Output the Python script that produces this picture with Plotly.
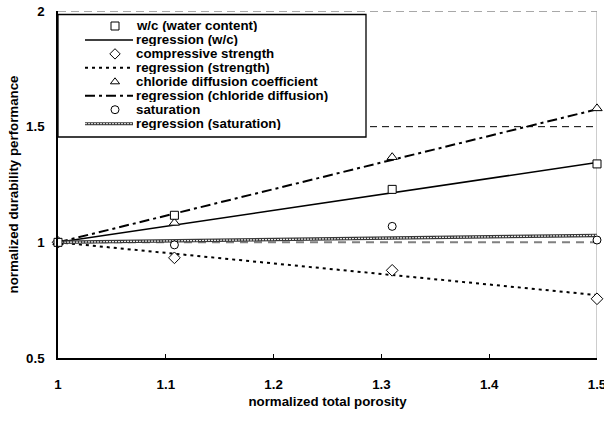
import plotly.graph_objects as go

# Measured points (normalized values)
porosity = [1.0, 1.108, 1.31, 1.5]
wc = [1.0, 1.117, 1.229, 1.339]
strength = [1.0, 0.933, 0.879, 0.756]
chloride = [1.0, 1.084, 1.368, 1.579]
saturation = [1.0, 0.989, 1.069, 1.010]

# Regression lines (end points over the porosity range)
reg_x = [1.0, 1.5]
reg_wc = [1.0, 1.345]
reg_strength = [1.0, 0.772]
reg_chloride = [1.0, 1.575]
reg_saturation = [1.0, 1.03]

x_ticks = [1, 1.1, 1.2, 1.3, 1.4, 1.5]
x_tick_text = ["1", "1.1", "1.2", "1.3", "1.4", "1.5"]
y_ticks = [0.5, 1, 1.5, 2]
y_tick_text = ["0.5", "1", "1.5", "2"]

legend_labels = [
    "w/c (water content)",
    "regression (w/c)",
    "compressive strength",
    "regression (strength)",
    "chloride diffusion coefficient",
    "regression (chloride diffusion)",
    "saturation",
    "regression (saturation)",
]

FONT = "Liberation Sans, Arial, sans-serif"
FS = 13.3
W, H = 604, 421
ML, MR, MT, MB = 58, 7, 11, 63
PW, PH = W - ML - MR, H - MT - MB
X_RANGE = [1, 1.5]
Y_RANGE = [0.5, 2]

def px_x(p):
    return (p - ML) / PW

def px_y(p):
    return (H - MB - p) / PH

def dx(p):
    return X_RANGE[0] + px_x(p) * (X_RANGE[1] - X_RANGE[0])

def dy(p):
    return Y_RANGE[0] + px_y(p) * (Y_RANGE[1] - Y_RANGE[0])

styles = {
    "wc": dict(color="black", width=1.6, dash="solid"),
    "strength": dict(color="black", width=2, dash="3px,4px"),
    "chloride": dict(color="black", width=2, dash="10px,4px,3px,4px"),
}

fig = go.Figure()

# regression lines
fig.add_trace(go.Scatter(x=reg_x, y=reg_wc, mode="lines", line=styles["wc"]))
fig.add_trace(go.Scatter(x=reg_x, y=reg_strength, mode="lines", line=styles["strength"]))
fig.add_trace(go.Scatter(x=reg_x, y=reg_chloride, mode="lines", line=styles["chloride"]))
fig.add_trace(go.Scatter(x=reg_x, y=reg_saturation, mode="lines",
                         line=dict(color="#3a3a3a", width=3.5)))
fig.add_trace(go.Scatter(x=reg_x, y=reg_saturation, mode="lines",
                         line=dict(color="#e8e8e8", width=1.2, dash="2px,1px")))

marker_base = dict(size=8, color="white", line=dict(color="black", width=1))
fig.add_trace(go.Scatter(x=porosity, y=saturation, mode="markers",
                         marker=dict(symbol="circle", **marker_base), cliponaxis=False))
fig.add_trace(go.Scatter(x=porosity, y=strength, mode="markers",
                         marker=dict(symbol="diamond", size=9, color="white",
                                     line=dict(color="black", width=1)), cliponaxis=False))
fig.add_trace(go.Scatter(x=porosity, y=chloride, mode="markers",
                         marker=dict(symbol="triangle-up", size=9, color="white",
                                     line=dict(color="black", width=1)), cliponaxis=False))
fig.add_trace(go.Scatter(x=porosity, y=wc, mode="markers",
                         marker=dict(symbol="square", **marker_base), cliponaxis=False))

shapes = []
# reference lines and frame
shapes.append(dict(type="line", xref="x", yref="y", x0=1, x1=1.5, y0=1.5, y1=1.5,
                   line=dict(color="black", width=1, dash="7px,5px"), layer="below"))
shapes.append(dict(type="line", xref="x", yref="y", x0=1, x1=1.5, y0=1, y1=1,
                   line=dict(color="#808080", width=2, dash="8px,6px"), layer="below"))
shapes.append(dict(type="line", xref="x", yref="y", x0=1, x1=1.5, y0=2, y1=2,
                   line=dict(color="#8c8c8c", width=1.5, dash="8px,5px"), layer="below"))
shapes.append(dict(type="line", xref="x", yref="y", x0=1.5, x1=1.5, y0=0.5, y1=2,
                   line=dict(color="#9a9a9a", width=1), layer="below"))

# legend box (in axis units so it sits above the reference lines)
shapes.append(dict(type="rect", xref="x", yref="y",
                   x0=dx(58), x1=dx(366), y0=dy(137), y1=dy(14.5),
                   fillcolor="white", line=dict(color="black", width=1.3), layer="below"))

row_y = [26 + i * 13.95 for i in range(len(legend_labels))]
line_styles = {1: styles["wc"], 3: styles["strength"], 5: styles["chloride"]}
for i, st in line_styles.items():
    shapes.append(dict(type="line", xref="paper", yref="paper",
                       x0=px_x(85), x1=px_x(133), y0=px_y(row_y[i]), y1=px_y(row_y[i]),
                       line=st, layer="above"))
shapes.append(dict(type="line", xref="paper", yref="paper",
                   x0=px_x(85), x1=px_x(133), y0=px_y(row_y[7]), y1=px_y(row_y[7]),
                   line=dict(color="#3a3a3a", width=3), layer="above"))
shapes.append(dict(type="line", xref="paper", yref="paper",
                   x0=px_x(85), x1=px_x(133), y0=px_y(row_y[7]), y1=px_y(row_y[7]),
                   line=dict(color="#e8e8e8", width=1, dash="2px,1px"), layer="above"))

# legend marker samples on an overlay axis in paper units
sym_rows = [(0, "square"), (2, "diamond"), (4, "triangle-up"), (6, "circle")]
fig.add_trace(go.Scatter(
    x=[px_x(115)] * len(sym_rows), y=[px_y(row_y[i]) for i, _ in sym_rows],
    mode="markers", xaxis="x2", yaxis="y2", cliponaxis=False,
    marker=dict(symbol=[s for _, s in sym_rows], size=8, color="white",
                line=dict(color="black", width=1))))

annotations = []
for i, lab in enumerate(legend_labels):
    annotations.append(dict(xref="paper", yref="paper", x=px_x(134), y=px_y(row_y[i]),
                            text=lab, showarrow=False, xanchor="left", yanchor="middle",
                            height=13, valign="middle",
                            font=dict(family=FONT, size=FS, color="black", weight="bold")))

tickfont = dict(family=FONT, size=FS, color="black", weight="bold")
titlefont = dict(family=FONT, size=FS, color="black", weight="bold")
fig.update_layout(
    width=W, height=H,
    margin=dict(l=ML, r=MR, t=MT, b=MB, autoexpand=False),
    paper_bgcolor="white", plot_bgcolor="white",
    showlegend=False,
    shapes=shapes, annotations=annotations,
    xaxis=dict(range=X_RANGE, tickvals=x_ticks, ticktext=x_tick_text,
               ticks="inside", ticklen=4, tickcolor="black", tickwidth=1,
               showline=True, linecolor="black", linewidth=1.5, showgrid=False,
               zeroline=False, tickfont=tickfont, ticklabelstandoff=13,
               ticklabeloverflow="allow", automargin=False,
               title=dict(text="normalized total porosity", standoff=6, font=titlefont)),
    yaxis=dict(range=Y_RANGE, tickvals=y_ticks, ticktext=y_tick_text,
               ticks="", showline=True, linecolor="black", linewidth=1.5,
               showgrid=False, zeroline=False, tickfont=tickfont, ticklabelstandoff=9,
               automargin=False,
               title=dict(text="normalized durability performance", standoff=4,
                          font=titlefont)),
    xaxis2=dict(range=[0, 1], overlaying="x", anchor="y2", visible=False, fixedrange=True),
    yaxis2=dict(range=[0, 1], overlaying="y", anchor="x2", visible=False, fixedrange=True),
)

fig.write_html("out.html")
